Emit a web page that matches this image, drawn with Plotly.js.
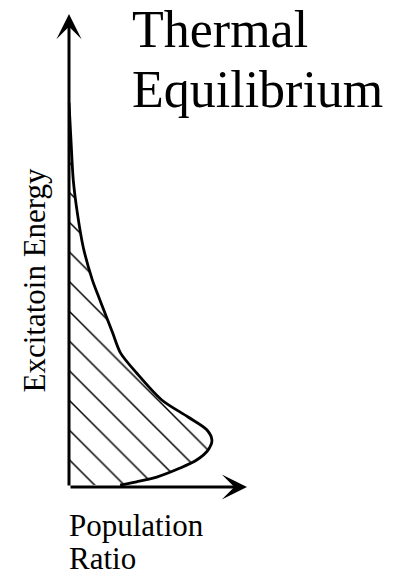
<!DOCTYPE html>
<html>
<head>
<meta charset="utf-8">
<script src="https://cdn.plot.ly/plotly-3.0.1.min.js"></script>
<style>
  html, body { margin: 0; padding: 0; background: #fff; }
  #chart { width: 404px; height: 577px; }
</style>
</head>
<body>
<div id="chart"></div>
<script>
// Population ratio (x) against excitation energy (y) along the thermal distribution curve
const population = [0, 0.11, 0.24, 0.47, 0.80, 1.31, 1.74, 2.45, 2.90, 3.80, 5.21, 6.69, 7.74, 8.03, 7.81, 7.17, 6.24, 4.93, 3.80, 2.87];
const energy     = [8.12, 7.34, 6.49, 5.79, 5.07, 4.38, 3.95, 3.26, 2.83, 2.41, 1.84, 1.48, 1.21, 0.99, 0.78, 0.57, 0.40, 0.21, 0.11, 0.04];

const titleLines  = ['Thermal', 'Equilibrium'];
const xLabelLines = ['Population', 'Ratio'];
const yLabel      = 'Excitatoin Energy';

const axisMax = 10;
const serif = "'Liberation Serif', 'Times New Roman', Times, serif";

// The distribution curve; the area between it and the energy axis is hatched
const curve = {
  x: population,
  y: energy,
  mode: 'lines',
  fill: 'tozerox',
  fillcolor: 'white',
  fillpattern: { shape: '\\', size: 21, solidity: 0.07, fgcolor: 'black', bgcolor: 'white' },
  line: { color: 'black', width: 2.8, shape: 'spline', smoothing: 0.8 },
  hoverinfo: 'skip',
  cliponaxis: false
};

function arrow(x, y) {
  return {
    xref: 'x', yref: 'y', axref: 'x', ayref: 'y',
    x: x, y: y, ax: 0, ay: 0,
    text: '', showarrow: true,
    arrowhead: 3, arrowsize: 1.4, arrowwidth: 3, arrowcolor: 'black', standoff: 0
  };
}

function label(text, x, y, size, extra) {
  return Object.assign({
    xref: 'paper', yref: 'paper', x: x, y: y,
    xanchor: 'left', yanchor: 'middle',
    text: text, showarrow: false,
    font: { family: serif, size: size, color: 'black' }
  }, extra || {});
}

const layout = {
  width: 404,
  height: 577,
  margin: { l: 69, r: 157, t: 14, b: 90, pad: 0 },
  paper_bgcolor: 'white',
  plot_bgcolor: 'white',
  showlegend: false,
  font: { family: serif },
  xaxis: { range: [0, axisMax], visible: false, fixedrange: true },
  yaxis: { range: [0, axisMax], visible: false, fixedrange: true },
  annotations: [
    arrow(0, axisMax),
    arrow(axisMax, 0),
    label(titleLines[0], 0.3427, 0.9672, 52),
    label(titleLines[1], 0.3427, 0.8405, 52),
    label(xLabelLines[0], -0.0112, -0.0814, 31),
    label(xLabelLines[1], -0.0112, -0.1512, 31),
    label(yLabel, -0.1938, 0.4376, 31, { xanchor: 'center', textangle: -90 })
  ]
};

Plotly.newPlot('chart', [curve], layout, { staticPlot: true, displayModeBar: false });
</script>
</body>
</html>
